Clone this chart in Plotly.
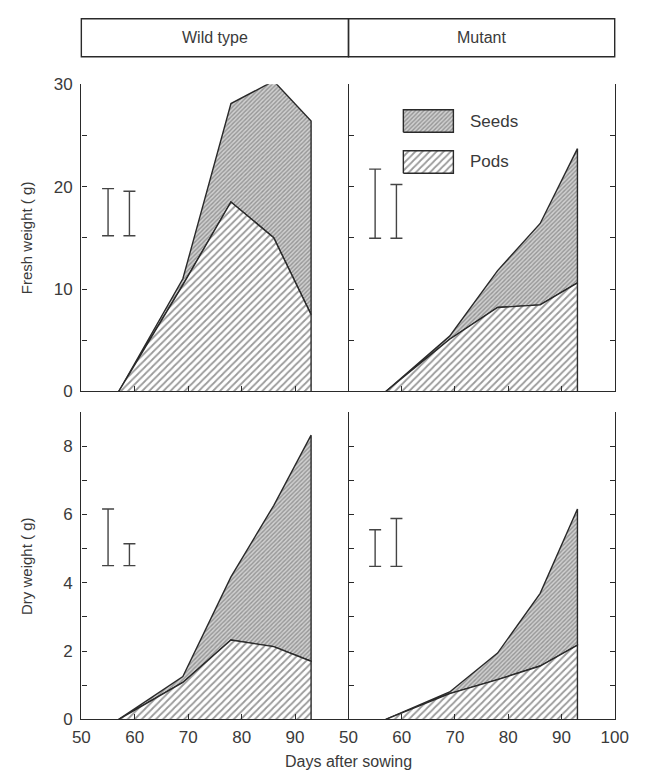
import plotly.graph_objects as go

# ---- data ----
days = [57, 69, 78, 86, 93]
wt_fresh_pods = [0, 10.4, 18.5, 15.0, 7.5]
wt_fresh_total = [0, 11.0, 28.1, 30.3, 26.4]
mu_fresh_pods = [0, 5.1, 8.2, 8.45, 10.6]
mu_fresh_total = [0, 5.4, 11.8, 16.4, 23.7]
wt_dry_pods = [0, 1.08, 2.32, 2.13, 1.70]
wt_dry_total = [0, 1.25, 4.17, 6.26, 8.32]
mu_dry_pods = [0, 0.75, 1.16, 1.56, 2.17]
mu_dry_total = [0, 0.8, 1.94, 3.69, 6.16]

err_days = [55, 59]
wt_fresh_err_lo = [15.2, 15.2]
wt_fresh_err_hi = [19.8, 19.55]
mu_fresh_err_lo = [14.95, 14.95]
mu_fresh_err_hi = [21.7, 20.2]
wt_dry_err_lo = [4.5, 4.5]
wt_dry_err_hi = [6.16, 5.14]
mu_dry_err_lo = [4.48, 4.48]
mu_dry_err_hi = [5.55, 5.88]

panel_titles = ["Wild type", "Mutant"]
fresh_ticks = [0, 5, 10, 15, 20, 25, 30]
fresh_ticktext = ["0", "", "10", "", "20", "", "30"]
dry_ticks = list(range(0, 10))
dry_ticktext = ["0", "", "2", "", "4", "", "6", "", "8", ""]
x_ticks_left = [50, 60, 70, 80, 90]
x_ticks_right = [50, 60, 70, 80, 90, 100]

# ---- style ----
W, H = 648, 782
LINE = "#2a2a2a"
TXT = "#3a3a3a"
FONT = "Liberation Sans"
seed_pat = dict(shape="/", size=3, solidity=0.45, fgcolor="#959595", bgcolor="#d0d0d0", fillmode="replace")
pod_pat = dict(shape="/", size=5, solidity=0.35, fgcolor="#9a9a9a", bgcolor="#ffffff", fillmode="replace")

def px_x(p):
    return p / W

def px_y(p):
    return 1 - p / H

xl = (px_x(75), px_x(352))
xr = (px_x(352), px_x(628))
yt = (px_y(392), px_y(77))
yb = (px_y(728), px_y(413))

fig = go.Figure()

panels = [
    ("x", "y", wt_fresh_pods, wt_fresh_total, wt_fresh_err_lo, wt_fresh_err_hi),
    ("x2", "y2", mu_fresh_pods, mu_fresh_total, mu_fresh_err_lo, mu_fresh_err_hi),
    ("x3", "y3", wt_dry_pods, wt_dry_total, wt_dry_err_lo, wt_dry_err_hi),
    ("x4", "y4", mu_dry_pods, mu_dry_total, mu_dry_err_lo, mu_dry_err_hi),
]

for xa, ya, pods, total, lo, hi in panels:
    sx = days + days[::-1]
    sy = total + pods[::-1]
    fig.add_trace(go.Scatter(x=sx, y=sy, fill="toself", fillpattern=seed_pat,
                             fillcolor="#d0d0d0", mode="lines",
                             line=dict(color=LINE, width=1.4), xaxis=xa, yaxis=ya,
                             showlegend=False, hoverinfo="skip"))
    px_ = days + [days[-1]]
    py_ = pods + [0]
    fig.add_trace(go.Scatter(x=px_, y=py_, fill="toself", fillpattern=pod_pat,
                             fillcolor="#ffffff", mode="lines",
                             line=dict(color=LINE, width=1.4), xaxis=xa, yaxis=ya,
                             showlegend=False, hoverinfo="skip"))
    mids = [(a + b) / 2 for a, b in zip(lo, hi)]
    halfs = [(b - a) / 2 for a, b in zip(lo, hi)]
    fig.add_trace(go.Scatter(x=err_days, y=mids, mode="markers",
                             marker=dict(size=0.1, color="rgba(0,0,0,0)"),
                             error_y=dict(type="data", array=halfs, visible=True,
                                          color="#444444", thickness=1.4, width=6),
                             xaxis=xa, yaxis=ya, showlegend=False, hoverinfo="skip"))

# legend swatches in the top-right panel (decoration)
def rect(x0, x1, y0, y1):
    return [x0, x1, x1, x0, x0], [y0, y0, y1, y1, y0]

lx0, lx1 = 60.3, 69.7
sxr, syr = rect(lx0, lx1, 25.3, 27.5)
fig.add_trace(go.Scatter(x=sxr, y=syr, fill="toself", fillpattern=seed_pat, fillcolor="#d0d0d0",
                         mode="lines", line=dict(color=LINE, width=1.4), xaxis="x2", yaxis="y2",
                         showlegend=False, hoverinfo="skip"))
pxr, pyr = rect(lx0, lx1, 21.3, 23.5)
fig.add_trace(go.Scatter(x=pxr, y=pyr, fill="toself", fillpattern=pod_pat, fillcolor="#ffffff",
                         mode="lines", line=dict(color=LINE, width=1.4), xaxis="x2", yaxis="y2",
                         showlegend=False, hoverinfo="skip"))

def ann(**kw):
    base = dict(showarrow=False, xanchor="center", yanchor="middle")
    base.update(kw)
    return base

annotations = [
    ann(x=72.5, y=26.4, xref="x2", yref="y2", text="Seeds", xanchor="left",
        font=dict(size=17, color=TXT, family=FONT)),
    ann(x=72.5, y=22.4, xref="x2", yref="y2", text="Pods", xanchor="left",
        font=dict(size=17, color=TXT, family=FONT)),
    ann(x=(xl[0] + xl[1]) / 2, y=px_y(29), xref="paper", yref="paper", text=panel_titles[0],
        font=dict(size=16, color=TXT, family=FONT)),
    ann(x=(xr[0] + xr[1]) / 2, y=px_y(29), xref="paper", yref="paper", text=panel_titles[1],
        font=dict(size=16, color=TXT, family=FONT)),
    ann(x=px_x(18), y=(yt[0] + yt[1]) / 2, xref="paper", yref="paper", text="Fresh weight ( g)",
        textangle=-90, font=dict(size=15, color=TXT, family=FONT)),
    ann(x=px_x(18), y=(yb[0] + yb[1]) / 2, xref="paper", yref="paper", text="Dry weight ( g)",
        textangle=-90, font=dict(size=15, color=TXT, family=FONT)),
    ann(x=px_x(352), y=px_y(771), xref="paper", yref="paper", text="Days after sowing",
        font=dict(size=16, color=TXT, family=FONT)),
]

shapes = [
    dict(type="rect", xref="paper", yref="paper", x0=xl[0], x1=xl[1], y0=px_y(49), y1=px_y(10),
         line=dict(color=LINE, width=1.4)),
    dict(type="rect", xref="paper", yref="paper", x0=xr[0], x1=xr[1], y0=px_y(49), y1=px_y(10),
         line=dict(color=LINE, width=1.4)),
]

tickfont = dict(size=17, color=TXT, family=FONT)
common_ax = dict(showgrid=False, zeroline=False, showline=True, linecolor=LINE, linewidth=1.4,
                 ticks="inside", ticklen=5, tickcolor=LINE, tickwidth=1.2, tickfont=tickfont,
                 fixedrange=True)

fig.update_layout(
    width=W, height=H, autosize=False,
    margin=dict(l=0, r=0, t=0, b=0),
    paper_bgcolor="white", plot_bgcolor="rgba(0,0,0,0)",
    showlegend=False,
    annotations=annotations, shapes=shapes,
    xaxis=dict(domain=xl, anchor="y", range=[50, 100], tickvals=[60, 70, 80, 90],
               showticklabels=False, **common_ax),
    xaxis2=dict(domain=xr, anchor="y2", range=[50, 100], tickvals=[60, 70, 80, 90],
                showticklabels=False, **common_ax),
    xaxis3=dict(domain=xl, anchor="y3", range=[50, 100], tickvals=x_ticks_left,
                ticktext=[str(v) for v in x_ticks_left], showticklabels=True,
                ticklabelstandoff=2, **common_ax),
    xaxis4=dict(domain=xr, anchor="y4", range=[50, 100], tickvals=x_ticks_right,
                ticktext=[str(v) for v in x_ticks_right], showticklabels=True,
                ticklabelstandoff=2, **common_ax),
    yaxis=dict(domain=yt, anchor="x", range=[0, 30], tickvals=fresh_ticks, ticktext=fresh_ticktext,
               ticklabelstandoff=4, **common_ax),
    yaxis2=dict(domain=yt, anchor="x2", range=[0, 30], tickvals=fresh_ticks, showticklabels=False,
                mirror="ticks", **common_ax),
    yaxis3=dict(domain=yb, anchor="x3", range=[0, 9], tickvals=dry_ticks, ticktext=dry_ticktext,
                ticklabelstandoff=4, **common_ax),
    yaxis4=dict(domain=yb, anchor="x4", range=[0, 9], tickvals=dry_ticks, showticklabels=False,
                mirror="ticks", **common_ax),
)

fig.write_html("out.html")
